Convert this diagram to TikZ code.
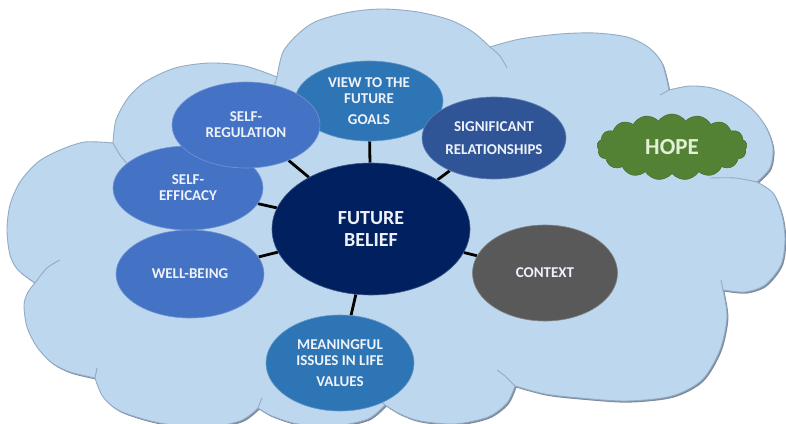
\documentclass[tikz,border=0pt]{standalone}
\usepackage{fontspec}
\setmainfont{Carlito}
\usetikzlibrary{shapes.geometric,shapes.symbols}
\definecolor{cloudfill}{HTML}{BDD7EE}
\definecolor{cloudline}{HTML}{93ABC4}
\definecolor{cloudshadow}{HTML}{7D8B9C}
\definecolor{navy}{HTML}{002060}
\definecolor{midblue}{HTML}{2E75B6}
\definecolor{accblue}{HTML}{4472C4}
\definecolor{darkblue}{HTML}{2F5597}
\definecolor{ctxgray}{HTML}{595959}
\definecolor{hopegreen}{HTML}{548235}
\definecolor{hopetext}{HTML}{E2F0D9}
\definecolor{nodetext}{HTML}{EEF2FA}
\pgfdeclarelayer{bg}\pgfdeclarelayer{links}\pgfsetlayers{bg,links,main}
\tikzset{
  bub/.style={ellipse, fill=#1, draw=#1!75!white, line width=0.6pt, text=nodetext,
    font=\bfseries\fontsize{15}{16}\selectfont, align=center, inner sep=0pt},
  link/.style={line width=2.8pt, black},
  inarc/.style={draw=cloudline, line width=0.9pt},
}
\begin{document}
\begin{tikzpicture}[x=1pt, y=-1pt]
\useasboundingbox (0,0) rectangle (786,423);

% satellite nodes
\node[bub=midblue, minimum width=148pt, minimum height=80pt] (view) at (369,101)
  {VIEW TO THE\\FUTURE\\[5pt]GOALS};
\node[bub=accblue, minimum width=150pt, minimum height=84pt] (eff) at (188,188)
  {SELF-\\EFFICACY};
\node[bub=accblue, minimum width=148pt, minimum height=88pt] (well) at (190,274)
  {WELL-BEING};
\node[bub=accblue, minimum width=148pt, minimum height=86pt] (reg) at (246,125)
  {SELF-\\REGULATION};
\node[bub=darkblue, minimum width=144pt, minimum height=82pt] (sig) at (494,138)
  {SIGNIFICANT\\[7pt]RELATIONSHIPS};
\node[bub=ctxgray, minimum width=145pt, minimum height=96pt] (ctx) at (545,273)
  {CONTEXT};
\node[bub=midblue, minimum width=148pt, minimum height=96pt] (mean) at (340,363)
  {MEANINGFUL\\ISSUES IN LIFE\\[5pt]VALUES};
\node[bub=navy, minimum width=198pt, minimum height=132pt,
  font=\bfseries\fontsize{20}{21.5}\selectfont] (fb) at (371,229) {FUTURE\\BELIEF};
\node[cloud, cloud puffs=17, cloud puff arc=110, aspect=2.3, fill=hopegreen,
  draw=hopegreen!85!black, line width=0.6pt, minimum width=150pt, minimum height=66pt,
  inner sep=0pt, text=hopetext, font=\bfseries\fontsize{23}{25}\selectfont] (hope) at (672,147) {HOPE};

\begin{pgfonlayer}{links}
  \foreach \n in {view,reg,eff,well,sig,ctx,mean}
    \draw[link] (fb) -- (\n);
\end{pgfonlayer}

\begin{pgfonlayer}{bg}
\fill[white] (0,0) rectangle (786,423);
\path[fill=cloudfill, draw=cloudline, line width=0.9pt,
  preaction={fill=cloudshadow, transform canvas={xshift=1.4pt, yshift=-1.6pt}}]
  plot[smooth] coordinates {(113,143) (116,120) (128,98) (145,82) (175,68) (210,63) (245,66) (277,77)}
  -- plot[smooth] coordinates {(277,77) (283,52) (298,34) (317,21) (350,12) (383,9) (418,12) (450,20) (473,32) (490,47)}
  -- plot[smooth] coordinates {(490,47) (520,39) (560,34) (595,33) (627,37) (648,47) (662,63) (669,90)}
  -- plot[smooth] coordinates {(669,90) (690,86) (712,88) (733,96) (752,109) (766,127) (773,148) (770,168) (757,182)}
  -- plot[smooth] coordinates {(757,182) (773,193) (782,215) (785,240) (781,265) (765,285) (745,292) (723,290)}
  -- plot[smooth] coordinates {(723,290) (727,317) (720,350) (702,380) (672,396) (627,401) (580,398) (545,394) (515,386)}
  -- plot[smooth] coordinates {(515,386) (507,403) (488,417) (455,424) (420,421) (400,414) (385,405)}
  -- plot[smooth] coordinates {(385,405) (368,419) (335,426) (298,424) (272,416) (258,408)}
  -- plot[smooth] coordinates {(258,408) (240,421) (200,428) (155,422) (120,411) (103,397) (95,378)}
  -- plot[smooth] coordinates {(95,378) (70,372) (52,363) (37,347) (27,327) (24,305) (28,292) (35,283)}
  -- plot[smooth] coordinates {(35,283) (18,270) (10,255) (7,230) (10,205) (20,182) (38,162) (60,150) (85,142) (113,143)}
  -- cycle;
\draw[inarc] plot[smooth] coordinates {(113,143) (120,155) (130,167)};
\draw[inarc] plot[smooth] coordinates {(277,77) (273,90)};
\draw[inarc] plot[smooth] coordinates {(490,47) (500,56) (507,68)};
\draw[inarc] plot[smooth] coordinates {(669,90) (660,95)};
\draw[inarc] plot[smooth] coordinates {(757,182) (735,178) (710,178)};
\draw[inarc] plot[smooth] coordinates {(723,290) (721,280)};
\draw[inarc] plot[smooth] coordinates {(515,386) (505,376) (497,370)};
\draw[inarc] plot[smooth] coordinates {(385,405) (378,398)};
\draw[inarc] plot[smooth] coordinates {(258,408) (262,398)};
\draw[inarc] plot[smooth] coordinates {(95,378) (97,368)};
\draw[inarc] plot[smooth] coordinates {(35,283) (47,268) (60,260)};
\end{pgfonlayer}
\end{tikzpicture}
\end{document}
